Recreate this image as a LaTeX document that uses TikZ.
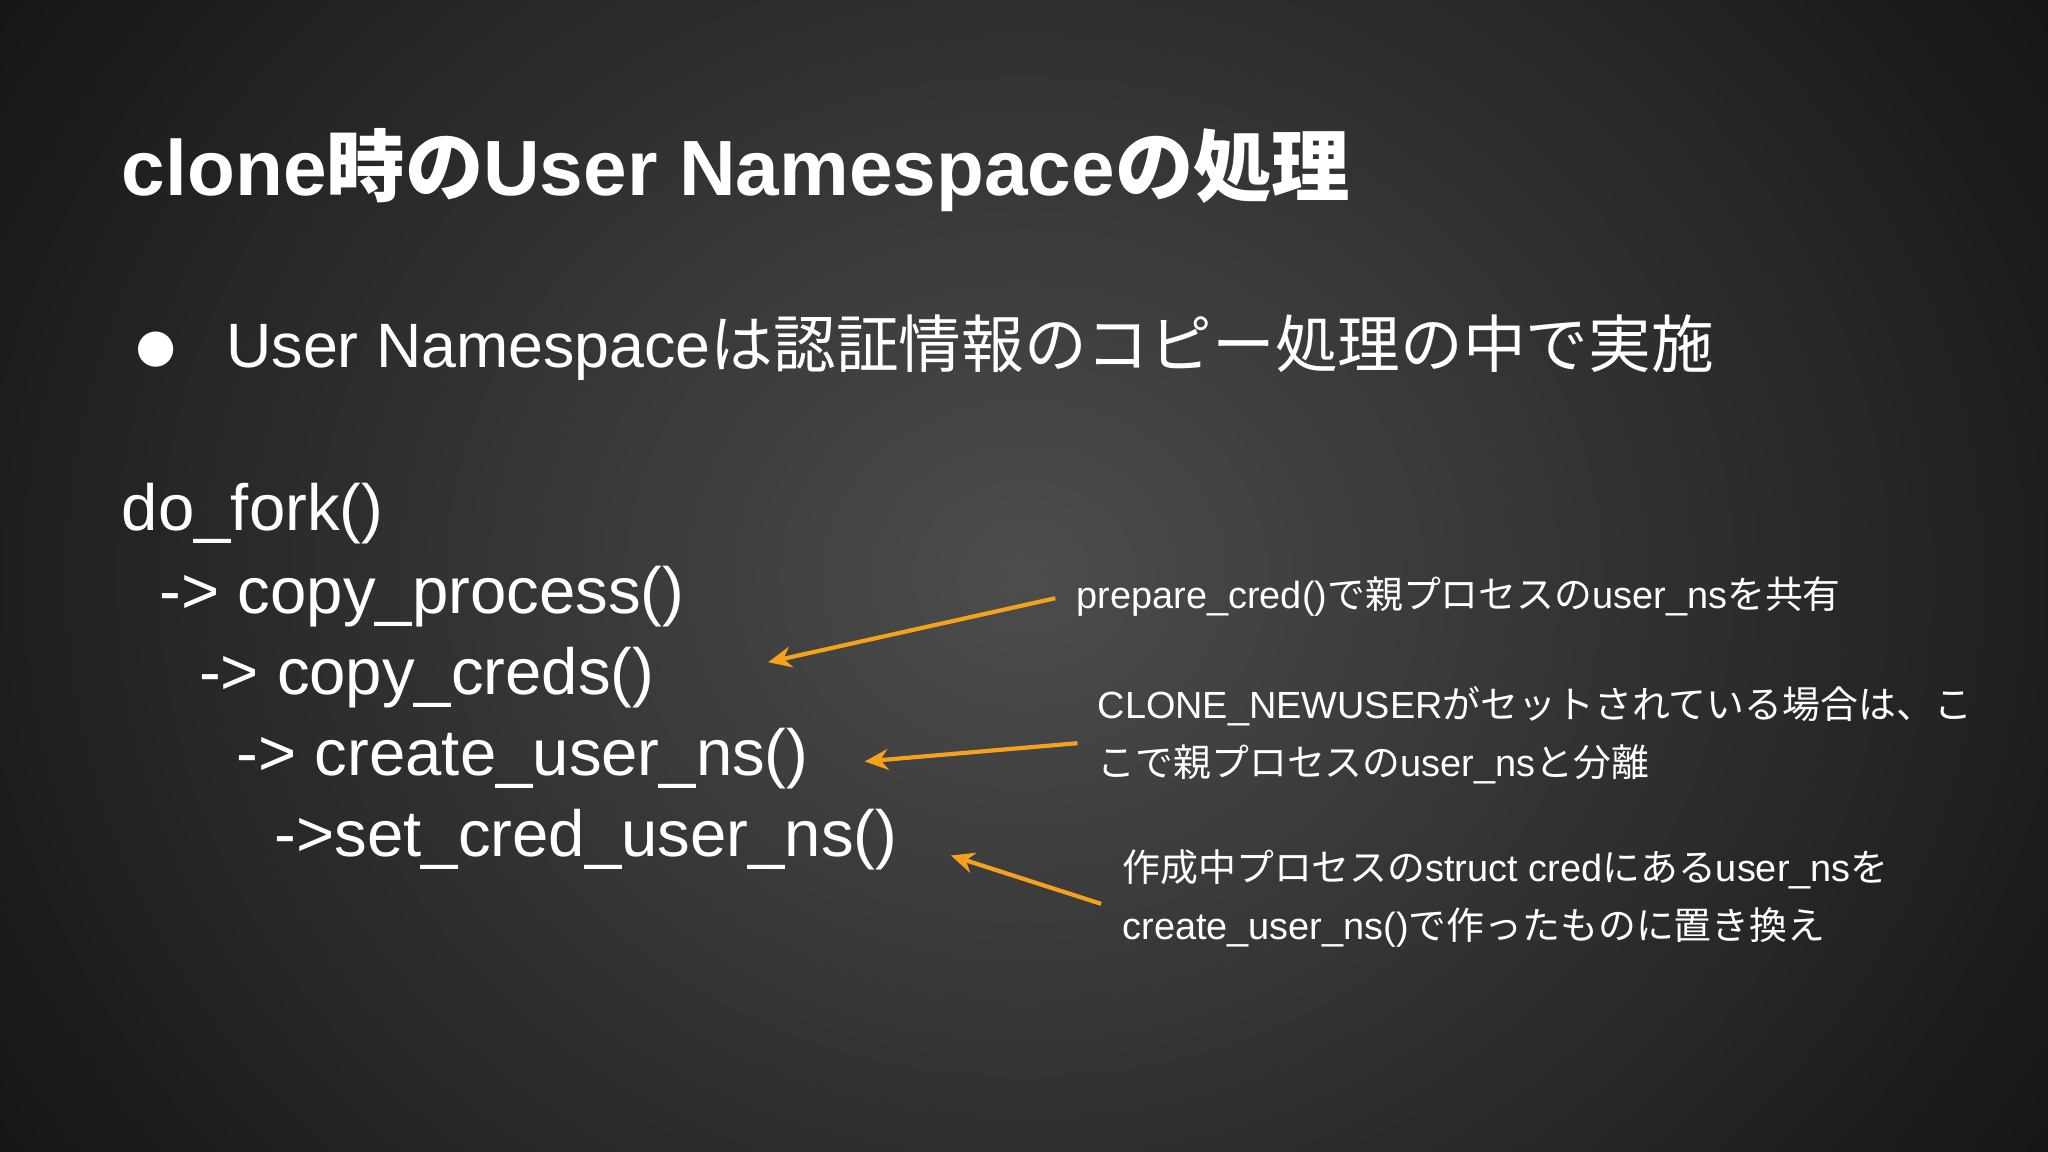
\documentclass[tikz,border=0pt]{standalone}
\usepackage{fontspec}
\usetikzlibrary{arrows.meta}
\setmainfont{Liberation Sans}
\newfontfamily\jp{Noto Sans CJK JP}
\newcommand{\J}[1]{{\jp #1}}
\definecolor{arr}{HTML}{F4A11E}
\begin{document}
\begin{tikzpicture}[x=0.5pt,y=-0.5pt,
  txt/.style={anchor=west,text=white,inner sep=0pt},
  code/.style={txt,font=\fontsize{25}{30}\selectfont},
  note/.style={txt,font=\fontsize{14.5}{18}\selectfont,align=left},
  pointer/.style={draw=arr,line width=1.6pt,-{Stealth[length=9pt,width=8pt]}}]
\useasboundingbox (0,0) rectangle (1568,882);
\begin{scope}
\clip (0,0) rectangle (1568,882);
\shade[inner color=black!70,outer color=black!95] (-300,-500) rectangle (1868,1382);
\end{scope}
\node[txt,font=\fontsize{30}{36}\selectfont\bfseries] (title) at (93,130) {clone\J{時の}User Namespace\J{の処理}};
\node[txt,font=\fontsize{15}{18}\selectfont] (bul) at (104,268) {\J{●}};
\node[txt,font=\fontsize{24}{28}\selectfont] (b1) at (173,266) {User Namespace\J{は認証情報のコピー処理の中で実施}};
\node[code] (c1) at (93,393) {do\_fork()};
\node[code] (c2) at (122,457) {-> copy\_process()};
\node[code] (c3) at (152,519) {-> copy\_creds()};
\node[code] (c4) at (181,581) {-> create\_user\_ns()};
\node[code] (c5) at (210,643) {->set\_cred\_user\_ns()};
\node[note] (n1) at (824,457) {prepare\_cred()\J{で親プロセスの}user\_ns\J{を共有}};
\node[note] (n2) at (840,563) {CLONE\_NEWUSER\J{がセットされている場合は、こ}\\[4pt]\J{こで親プロセスの}user\_ns\J{と分離}};
\node[note] (n3) at (859,688) {\J{作成中プロセスの}struct cred\J{にある}user\_ns\J{を}\\[4pt]create\_user\_ns()\J{で作ったものに置き換え}};
\coordinate (s1) at (808,458);
\coordinate (s2) at (825,569);
\coordinate (s3) at (843,692);
\coordinate (a1) at (588,507);
\coordinate (a2) at (662,583);
\coordinate (a3) at (728,655);
\draw[pointer] (s1) -- (a1);
\draw[pointer] (s2) -- (a2);
\draw[pointer] (s3) -- (a3);
\end{tikzpicture}
\end{document}
